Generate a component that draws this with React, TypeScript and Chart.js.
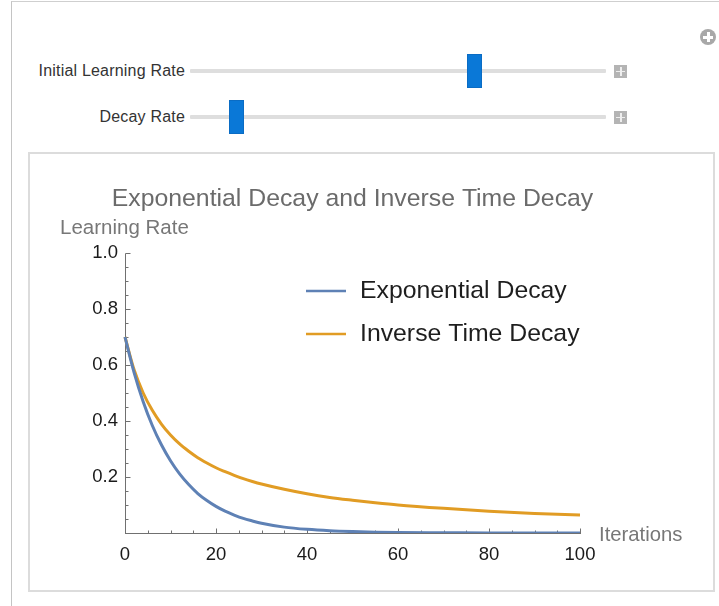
import React, { useEffect, useRef } from "react";
import { Chart, registerables } from "chart.js";

Chart.register(...registerables);

// ---- data ----
const iterations = [0, 2, 4, 6, 8, 10, 12, 14, 16, 18, 20, 22, 24, 26, 28, 30, 35, 40, 45, 50, 55, 60, 70, 80, 90, 100];
const exponentialDecay = [0.7, 0.573, 0.469, 0.384, 0.315, 0.258, 0.211, 0.173, 0.141, 0.116, 0.095, 0.078, 0.064, 0.052, 0.043, 0.035, 0.021, 0.013, 0.008, 0.005, 0.003, 0.002, 0.001, 0.0, 0.0, 0.0];
const inverseTimeDecay = [0.7, 0.583, 0.5, 0.438, 0.389, 0.35, 0.318, 0.292, 0.269, 0.25, 0.233, 0.219, 0.206, 0.194, 0.184, 0.175, 0.156, 0.14, 0.127, 0.117, 0.108, 0.1, 0.088, 0.078, 0.07, 0.064];

const seriesNames = ["Exponential Decay", "Inverse Time Decay"];
const seriesColors = ["#5e81b5", "#e19c24"];
const xTickValues = [0, 20, 40, 60, 80, 100];
const yTickValues = [0, 0.2, 0.4, 0.6, 0.8, 1.0];
const xMinorStep = 5;
const yMinorStep = 0.05;
const chartTitle = "Exponential Decay and Inverse Time Decay";
const yAxisLabel = "Learning Rate";
const xAxisLabel = "Iterations";
const sliderLabels = ["Initial Learning Rate", "Decay Rate"];
const sliderFractions = [0.685, 0.112];

const FONT = "'Liberation Sans', Arial, sans-serif";

const mmaPlugin = {
  id: "mmaDecor",
  beforeDatasetsDraw(chart: any) {
    const { ctx, scales, chartArea } = chart;
    const x = scales.x;
    const y = scales.y;
    const xMin = xTickValues[0];
    const xMax = xTickValues[xTickValues.length - 1];
    const yMin = yTickValues[0];
    const yMax = yTickValues[yTickValues.length - 1];
    const x0 = Math.round(x.getPixelForValue(xMin)) + 0.5;
    const y0 = Math.round(y.getPixelForValue(yMin)) + 0.5;
    ctx.save();
    ctx.strokeStyle = "#707070";
    ctx.lineWidth = 1;
    ctx.beginPath();
    ctx.moveTo(x0, y0);
    ctx.lineTo(x0, Math.round(y.getPixelForValue(yMax)) + 0.5);
    ctx.moveTo(x0 - 0.5, y0);
    ctx.lineTo(Math.round(x.getPixelForValue(xMax)) + 1, y0);
    const yCount = Math.round((yMax - yMin) / yMinorStep);
    for (let i = 1; i <= yCount; i++) {
      const v = yMin + i * yMinorStep;
      const py = Math.round(y.getPixelForValue(v)) + 0.5;
      const len = i % 4 === 0 ? 5 : 3;
      ctx.moveTo(x0, py);
      ctx.lineTo(x0 + len, py);
    }
    const xCount = Math.round((xMax - xMin) / xMinorStep);
    for (let i = 1; i <= xCount; i++) {
      const v = xMin + i * xMinorStep;
      const px = Math.round(x.getPixelForValue(v)) + 0.5;
      const len = i % 4 === 0 ? 5 : 3;
      ctx.moveTo(px, y0);
      ctx.lineTo(px, y0 - len);
    }
    ctx.stroke();

    // title (drawn without width squeezing)
    ctx.fillStyle = "#6b6b6b";
    ctx.font = `24.8px ${FONT}`;
    ctx.textBaseline = "middle";
    ctx.textAlign = "center";
    ctx.fillText(chartTitle, (chartArea.left + chartArea.right) / 2, chartArea.top - 54);

    // axis labels
    ctx.fillStyle = "#777777";
    ctx.font = `20.5px ${FONT}`;
    ctx.textAlign = "left";
    ctx.fillText(yAxisLabel, chartArea.left - 65, chartArea.top - 25);
    ctx.font = `20.3px ${FONT}`;
    ctx.fillText(xAxisLabel, chartArea.right + 19, chartArea.bottom + 2);
    ctx.restore();
  },
  afterDraw(chart: any) {
    const { ctx, chartArea } = chart;
    ctx.save();
    const lx = chartArea.left + 181;
    const ly = chartArea.top + 38;
    seriesNames.forEach((name, i) => {
      const yy = ly + i * 43;
      ctx.strokeStyle = seriesColors[i];
      ctx.lineWidth = 2.6;
      ctx.beginPath();
      ctx.moveTo(lx, yy);
      ctx.lineTo(lx + 40, yy);
      ctx.stroke();
      ctx.fillStyle = "#1e1e1e";
      ctx.font = `24.8px ${FONT}`;
      ctx.textBaseline = "middle";
      ctx.textAlign = "left";
      ctx.fillText(name, lx + 54, yy);
    });
    ctx.restore();
  },
};

function ChartPanel() {
  const ref = useRef<HTMLCanvasElement | null>(null);
  useEffect(() => {
    if (!ref.current) return;
    const chart = new Chart(ref.current, {
      type: "line",
      data: {
        datasets: seriesNames.map((name, i) => ({
          label: name,
          data: iterations.map((t, k) => ({ x: t, y: (i === 0 ? exponentialDecay : inverseTimeDecay)[k] })),
          borderColor: seriesColors[i],
          backgroundColor: seriesColors[i],
          borderWidth: 3,
          pointRadius: 0,
          cubicInterpolationMode: "monotone",
          fill: false,
          clip: { left: 3, right: 3, top: 3, bottom: 0 },
        })),
      },
      options: {
        responsive: false,
        animation: false,
        devicePixelRatio: 1,
        layout: { padding: { left: 0, right: 133, top: 99, bottom: 0 } },
        plugins: {
          legend: { display: false },
          tooltip: { enabled: false },
          title: { display: false },
        },
        scales: {
          x: {
            type: "linear",
            min: xTickValues[0],
            max: xTickValues[xTickValues.length - 1],
            afterBuildTicks: (s: any) => {
              s.ticks = xTickValues.map((v) => ({ value: v }));
            },
            afterFit: (s: any) => {
              s.height = 57;
            },
            grid: { display: false, drawTicks: false },
            border: { display: false },
            ticks: {
              padding: 11,
              color: "#1a1a1a",
              font: { size: 18.5, family: FONT },
              maxRotation: 0,
              callback: (v: any) => String(v),
            },
          },
          y: {
            type: "linear",
            min: yTickValues[0],
            max: yTickValues[yTickValues.length - 1],
            afterBuildTicks: (s: any) => {
              s.ticks = yTickValues.map((v) => ({ value: v }));
            },
            afterFit: (s: any) => {
              s.width = 95;
            },
            grid: { display: false, drawTicks: false },
            border: { display: false },
            ticks: {
              padding: 7,
              color: "#1a1a1a",
              font: { size: 18.5, family: FONT },
              callback: (v: any) => (Number(v) === 0 ? "" : Number(v).toFixed(1)),
            },
          },
        },
      },
      plugins: [mmaPlugin],
    } as any);
    return () => chart.destroy();
  }, []);
  return <canvas ref={ref} width={683} height={436} style={{ position: "absolute", left: 0, top: 0, width: 683, height: 436 }} />;
}

function Slider({ label, top, fraction }: { label: string; top: number; fraction: number }) {
  const trackLeft = 190;
  const trackWidth = 416;
  const thumbLeft = trackLeft + fraction * trackWidth - 7.5;
  return (
    <>
      <div
        style={{
          position: "absolute",
          right: 719 - 185,
          top: top - 10,
          height: 20,
          lineHeight: "20px",
          fontFamily: FONT,
          fontSize: 16,
          color: "#333",
          whiteSpace: "nowrap",
          letterSpacing: 0.2,
        }}
      >
        {label}
      </div>
      <div
        style={{
          position: "absolute",
          left: trackLeft,
          top: top - 2,
          width: trackWidth,
          height: 4,
          background: "#dedede",
          borderRadius: 1,
        }}
      />
      <div
        style={{
          position: "absolute",
          left: thumbLeft,
          top: top - 17,
          width: 15,
          height: 34,
          background: "#0a78d7",
          boxSizing: "border-box",
          border: "1px solid #0a6cc4",
        }}
      />
      <div
        style={{
          position: "absolute",
          left: 614,
          top: top - 6,
          width: 13,
          height: 13,
          background: "#b4b4b4",
        }}
      >
        <div style={{ position: "absolute", left: 6, top: 2, width: 1.5, height: 9, background: "#eee" }} />
        <div style={{ position: "absolute", left: 2, top: 5.7, width: 9, height: 1.5, background: "#eee" }} />
      </div>
    </>
  );
}

export default function App() {
  return (
    <div
      style={{
        position: "absolute",
        left: 0,
        top: 0,
        width: 719,
        height: 606,
        overflow: "hidden",
        background: "#fff",
      }}
    >
      <div
        style={{
          position: "absolute",
          left: 11,
          top: 1,
          width: 720,
          height: 620,
          borderLeft: "1px solid #c4c4c4",
          borderTop: "1px solid #cfcfcf",
        }}
      />
      {/* add button */}
      <div
        style={{
          position: "absolute",
          left: 700,
          top: 29,
          width: 16,
          height: 16,
          borderRadius: 8,
          background: "#a8a8a8",
        }}
      >
        <div style={{ position: "absolute", left: 6.5, top: 3, width: 3, height: 10, background: "#fff" }} />
        <div style={{ position: "absolute", left: 3, top: 6.5, width: 10, height: 3, background: "#fff" }} />
      </div>
      <Slider label={sliderLabels[0]} top={71} fraction={sliderFractions[0]} />
      <Slider label={sliderLabels[1]} top={117} fraction={sliderFractions[1]} />
      <div
        style={{
          position: "absolute",
          left: 28,
          top: 152,
          width: 687,
          height: 440,
          boxSizing: "border-box",
          border: "2px solid #dcdcdc",
          background: "#fff",
        }}
      >
        <ChartPanel />
      </div>
    </div>
  );
}
